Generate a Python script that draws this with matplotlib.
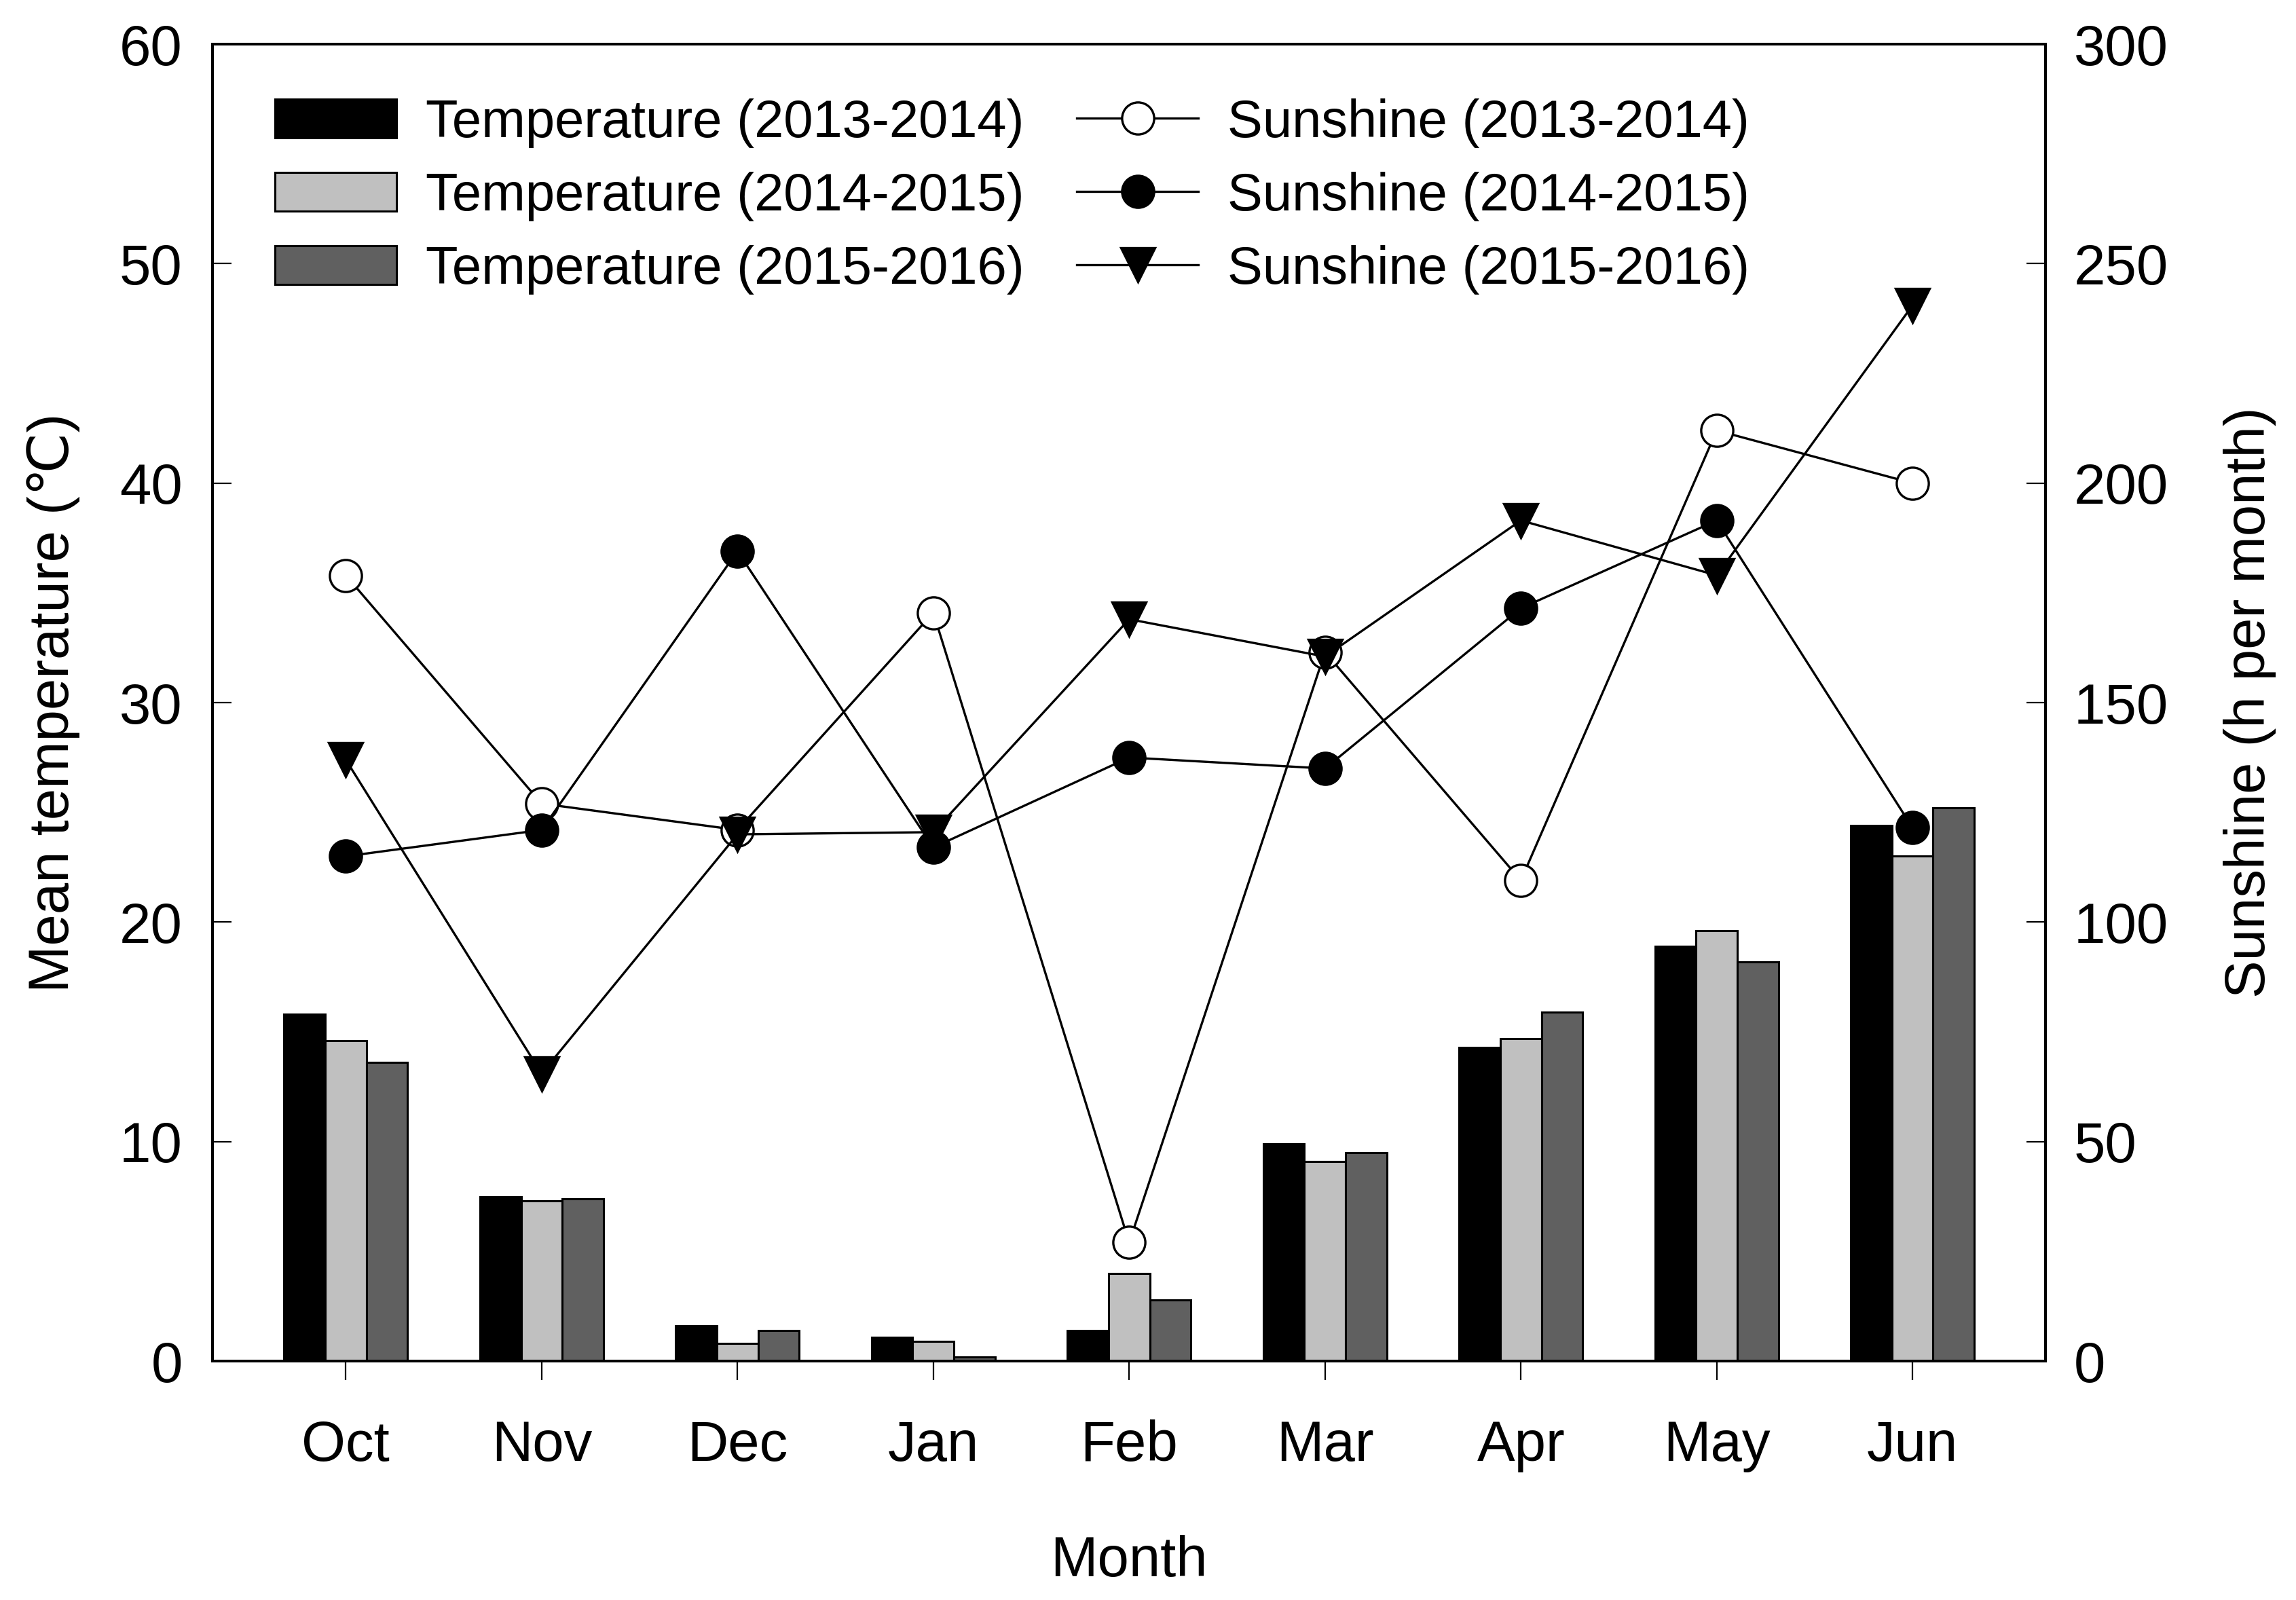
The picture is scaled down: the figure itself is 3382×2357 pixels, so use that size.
import numpy as np
import matplotlib
matplotlib.use("Agg")
import matplotlib.pyplot as plt
from matplotlib.patches import Patch
from matplotlib.lines import Line2D

plt.rcParams["font.family"] = ["Liberation Sans", "DejaVu Sans"]

months = ["Oct", "Nov", "Dec", "Jan", "Feb", "Mar", "Apr", "May", "Jun"]

temp_2013 = [15.8, 7.5, 1.6, 1.1, 1.4, 9.9, 14.3, 18.9, 24.4]
temp_2014 = [14.6, 7.3, 0.8, 0.9, 4.0, 9.1, 14.7, 19.6, 23.0]
temp_2015 = [13.6, 7.4, 1.4, 0.2, 2.8, 9.5, 15.9, 18.2, 25.2]

sun_2013 = [179, 127, 121, 170.5, 27, 161.5, 109.5, 212, 200]
sun_2014 = [115, 121, 184.5, 117, 137.5, 135, 171.5, 191.5, 121.5]
sun_2015 = [137, 65.5, 120, 120.5, 169, 160.5, 191.5, 179, 240.5]

seasons = ["2013-2014", "2014-2015", "2015-2016"]
bar_colors = ["#000000", "#c0c0c0", "#606060"]

fig = plt.figure(figsize=(16.91, 11.785), dpi=200)
ax = fig.add_axes([0.0926, 0.1493, 0.7984, 0.8231])
ax2 = ax.twinx()

x = np.arange(len(months))
w = 0.21
for i, (vals, c) in enumerate(zip([temp_2013, temp_2014, temp_2015], bar_colors)):
    ax.bar(x + (i - 1) * w, vals, w, color=c, edgecolor="black", linewidth=1.1)

line_kw = dict(color="black", linewidth=1.2, markeredgewidth=1.2)
ax2.plot(x, sun_2013, marker="o", markersize=17, markerfacecolor="white", **line_kw)
ax2.plot(x, sun_2014, marker="o", markersize=17, markerfacecolor="black", **line_kw)
ax2.plot(x, sun_2015, marker="v", markersize=18, markerfacecolor="black", **line_kw)

ax.set_xlim(-0.68, 8.68)
ax.set_ylim(0, 60)
ax2.set_ylim(0, 300)
ax.set_xticks(x)
ax.set_xticklabels(months)
ax.set_yticks(range(0, 61, 10))
ax2.set_yticks(range(0, 301, 50))

ax.tick_params(axis="x", direction="out", length=10, width=0.8, pad=21, labelsize=30)
ax.tick_params(axis="y", direction="in", length=10, width=0.8, pad=16, labelsize=30)
ax2.tick_params(axis="y", direction="in", length=10, width=0.8, pad=15, labelsize=30)
for a in (ax, ax2):
    for s in a.spines.values():
        s.set_linewidth(1.4)

ax.set_xlabel("Month", fontsize=30, labelpad=33)
ax.set_ylabel("Mean temperature (℃)", fontsize=30, labelpad=21)
ax2.set_ylabel("Sunshine (h per month)", fontsize=30, labelpad=29)

handles = [Patch(facecolor=c, edgecolor="black", linewidth=1.1) for c in bar_colors]
handles += [
    Line2D([], [], marker="o", markersize=17, markerfacecolor="white", **line_kw),
    Line2D([], [], marker="o", markersize=17, markerfacecolor="black", **line_kw),
    Line2D([], [], marker="v", markersize=18, markerfacecolor="black", **line_kw),
]
labels = [f"Temperature ({s})" for s in seasons] + [f"Sunshine ({s})" for s in seasons]
ax2.legend(handles, labels, ncol=2, loc="upper left", bbox_to_anchor=(0.034, 0.959),
           frameon=False, fontsize=28, handlelength=2.3, handleheight=0.75,
           handletextpad=0.55, columnspacing=1.0, labelspacing=0.45,
           borderpad=0, borderaxespad=0)

fig.savefig("out.png", dpi=200)
